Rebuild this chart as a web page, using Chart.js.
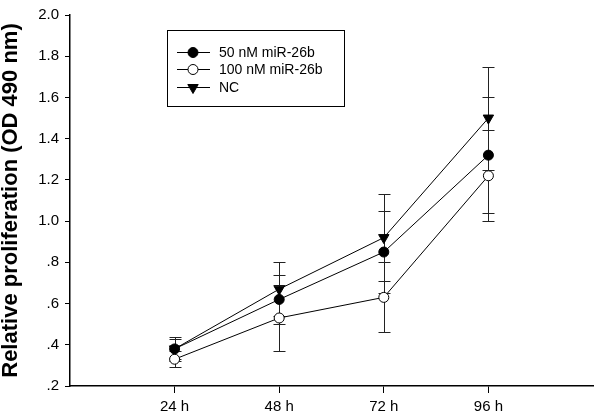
<!DOCTYPE html>
<html>
<head>
<meta charset="utf-8">
<script src="https://cdn.jsdelivr.net/npm/chart.js@4"></script>
<style>
  html, body { margin: 0; padding: 0; background: #fff; }
  #wrap { width: 600px; height: 414px; position: relative; }
</style>
</head>
<body>
<div id="wrap"><canvas id="chart"></canvas></div>
<script>
// Data
const hours = ['24 h', '48 h', '72 h', '96 h'];
const xPos = [1, 2, 3, 4];
const seriesNames = ['50 nM miR-26b', '100 nM miR-26b', 'NC'];
const nm50 = [0.38, 0.62, 0.85, 1.32];
const nm50Err = [0.05, 0.12, 0.20, 0.28];
const nm100 = [0.33, 0.53, 0.63, 1.22];
const nm100Err = [0.04, 0.16, 0.17, 0.22];
const nc = [0.38, 0.67, 0.92, 1.50];
const ncErr = [0.06, 0.13, 0.21, 0.25];
const yTicks = [0.2, 0.4, 0.6, 0.8, 1.0, 1.2, 1.4, 1.6, 1.8, 2.0];

const FONT = "'Liberation Sans', Arial, sans-serif";

function pts(vals) {
    return vals.map((v, i) => ({ x: xPos[i], y: v }));
}

const markers = [
    { pointStyle: 'circle', radius: 5, rotation: 0, fill: '#000' },
    { pointStyle: 'circle', radius: 5, rotation: 0, fill: '#fff' },
    { pointStyle: 'triangle', radius: 6, rotation: 180, fill: '#000' }
];
const errs = [nm50Err, nm100Err, ncErr];

function makeSet(i, vals) {
    const m = markers[i];
    return {
        label: seriesNames[i],
        data: pts(vals),
        borderColor: '#000',
        borderWidth: 1,
        showLine: true,
        fill: false,
        tension: 0,
        pointStyle: m.pointStyle,
        pointRadius: m.radius,
        pointRotation: m.rotation,
        pointBackgroundColor: m.fill,
        pointBorderColor: '#000',
        pointBorderWidth: 1
    };
}

// vertical error bars with caps, under the markers
const errorBars = {
    id: 'errorBars',
    beforeDatasetsDraw(chart) {
        const ctx = chart.ctx;
        const xs = chart.scales.x, ys = chart.scales.y;
        ctx.save();
        ctx.strokeStyle = '#222';
        ctx.lineWidth = 1;
        chart.data.datasets.forEach((ds, i) => {
            ds.data.forEach((p, j) => {
                const e = errs[i][j];
                const x = Math.round(xs.getPixelForValue(p.x)) + 0.5;
                const top = Math.round(ys.getPixelForValue(p.y + e)) + 0.5;
                const bot = Math.round(ys.getPixelForValue(p.y - e)) + 0.5;
                ctx.beginPath();
                ctx.moveTo(x, top); ctx.lineTo(x, bot);
                ctx.moveTo(x - 6, top); ctx.lineTo(x + 6, top);
                ctx.moveTo(x - 6, bot); ctx.lineTo(x + 6, bot);
                ctx.stroke();
            });
        });
        ctx.restore();
    }
};

// boxed legend in the upper left
const boxLegend = {
    id: 'boxLegend',
    afterDraw(chart) {
        const ctx = chart.ctx;
        ctx.save();
        ctx.strokeStyle = '#000';
        ctx.lineWidth = 1;
        ctx.strokeRect(167.5, 30.5, 177, 76);
        const rows = [52, 69, 87];
        ctx.font = '14px ' + FONT;
        ctx.textBaseline = 'middle';
        seriesNames.forEach((name, i) => {
            const y = rows[i];
            ctx.beginPath();
            ctx.moveTo(177, y + 0.5); ctx.lineTo(210, y + 0.5);
            ctx.stroke();
            const m = markers[i];
            ctx.fillStyle = m.fill;
            Chart.helpers.drawPoint(ctx, {
                pointStyle: m.pointStyle, radius: m.radius,
                rotation: m.rotation, borderWidth: 1
            }, 193, y + 0.5);
            ctx.fillStyle = '#000';
            ctx.fillText(name, 219, y + 1);
        });
        ctx.restore();
    }
};

new Chart(document.getElementById('chart'), {
    type: 'scatter',
    data: {
        datasets: [makeSet(0, nm50), makeSet(1, nm100), makeSet(2, nc)]
    },
    options: {
        responsive: true,
        maintainAspectRatio: false,
        animation: false,
        layout: { padding: { top: 6, right: 0, bottom: 0, left: 0 } },
        plugins: {
            legend: { display: false },
            tooltip: { enabled: false }
        },
        scales: {
            x: {
                type: 'linear',
                min: 0,
                max: 5,
                afterBuildTicks: (s) => { s.ticks = xPos.map(v => ({ value: v })); },
                afterFit: (s) => { s.height = 28; },
                border: { color: '#000', width: 1.5 },
                grid: { drawOnChartArea: false, color: '#000', tickLength: 7, lineWidth: 1 },
                ticks: {
                    color: '#000',
                    padding: 5,
                    maxRotation: 0,
                    font: { family: FONT, size: 15 },
                    callback: (v) => hours[xPos.indexOf(v)]
                }
            },
            y: {
                min: 0.2,
                max: 2.0,
                afterBuildTicks: (s) => { s.ticks = yTicks.map(v => ({ value: v })); },
                afterFit: (s) => { s.width = 70; },
                border: { color: '#000', width: 1.5 },
                grid: { drawOnChartArea: false, color: '#000', tickLength: 5, lineWidth: 1 },
                ticks: {
                    color: '#000',
                    padding: 6,
                    font: { family: FONT, size: 15 },
                    callback: (v) => {
                        const s = v.toFixed(1);
                        return v < 1 ? s.replace(/^0/, '') : s;
                    }
                },
                title: {
                    display: true,
                    text: 'Relative proliferation (OD 490 nm)',
                    color: '#000',
                    padding: 0,
                    font: { family: FONT, size: 22, weight: 'bold', lineHeight: 1 }
                }
            }
        }
    },
    plugins: [errorBars, boxLegend]
});
</script>
</body>
</html>
